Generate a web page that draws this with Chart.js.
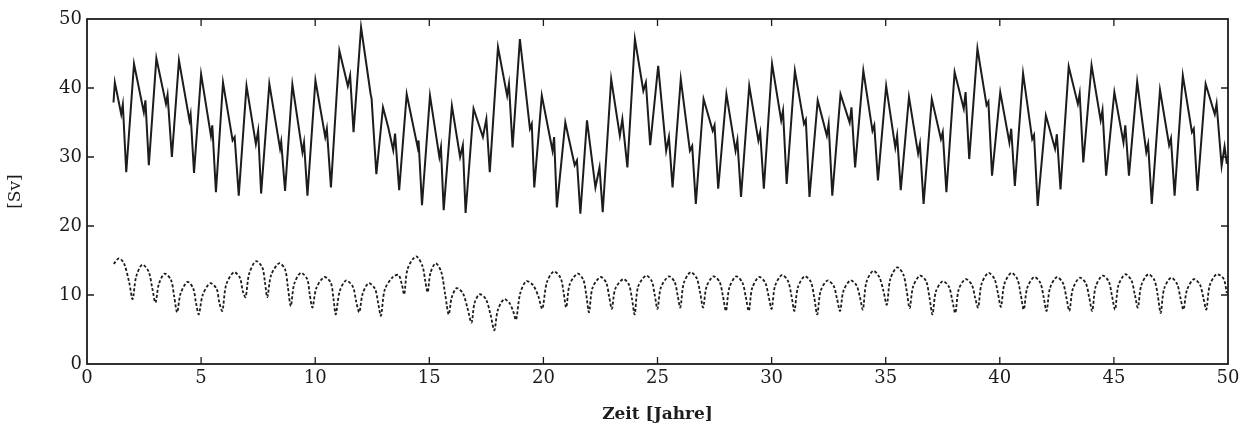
<!DOCTYPE html>
<html lang="de">
<head>
<meta charset="utf-8">
<title>Transport [Sv]</title>
<script src="https://cdn.jsdelivr.net/npm/chart.js@4.4.1/dist/chart.umd.min.js"></script>
<style>
    html, body { margin: 0; padding: 0; background: #fff; }
    #wrap { width: 1253px; height: 425px; }
</style>
</head>
<body>
<div id="wrap"><canvas id="flowChart" width="1253" height="425"></canvas></div>
<script>
// Achsen
const xTicks = [0, 5, 10, 15, 20, 25, 30, 35, 40, 45, 50];
const yTicks = [0, 10, 20, 30, 40, 50];

// obere Kurve (durchgezogen): Zeit in Jahren / Transport in Sv
const upperYears = [
    1.16, 1.22, 1.50, 1.57, 1.72,
    2.06, 2.49, 2.56, 2.71,
    3.04, 3.46, 3.53, 3.72,
    4.03, 4.49, 4.54, 4.69,
    5.00, 5.43, 5.49, 5.65,
    5.96, 6.38, 6.47, 6.65,
    6.99, 7.40, 7.50, 7.63,
    7.99, 8.46, 8.51, 8.68,
    9.00, 9.44, 9.51, 9.66,
    10.01, 10.44, 10.51, 10.69,
    11.06, 11.43, 11.53, 11.68,
    12.01, 12.43, 12.47, 12.68,
    12.97, 13.20, 13.42, 13.50, 13.68,
    14.01, 14.49, 14.53, 14.68,
    15.03, 15.44, 15.51, 15.63,
    15.99, 16.35, 16.47, 16.59,
    16.94, 17.35, 17.50, 17.65,
    18.01, 18.41, 18.49, 18.65,
    18.97, 19.41, 19.49, 19.60,
    19.93, 20.40, 20.47, 20.59,
    20.96, 21.37, 21.47, 21.62,
    21.91, 22.28, 22.46, 22.60,
    22.97, 23.35, 23.46, 23.68,
    24.01, 24.38, 24.49, 24.68,
    25.03, 25.38, 25.50, 25.66,
    26.02, 26.42, 26.52, 26.68,
    27.02, 27.42, 27.50, 27.66,
    28.02, 28.42, 28.50, 28.66,
    29.02, 29.42, 29.50, 29.66,
    30.02, 30.42, 30.50, 30.66,
    31.02, 31.42, 31.50, 31.66,
    32.02, 32.42, 32.50, 32.66,
    33.02, 33.42, 33.50, 33.66,
    34.02, 34.42, 34.50, 34.66,
    35.02, 35.42, 35.50, 35.66,
    36.02, 36.42, 36.50, 36.66,
    37.02, 37.42, 37.50, 37.66,
    38.02, 38.42, 38.50, 38.66,
    39.02, 39.42, 39.50, 39.66,
    40.02, 40.42, 40.50, 40.66,
    41.02, 41.42, 41.50, 41.66,
    42.02, 42.42, 42.50, 42.66,
    43.02, 43.42, 43.50, 43.66,
    44.02, 44.42, 44.50, 44.66,
    45.02, 45.42, 45.50, 45.66,
    46.02, 46.42, 46.50, 46.66,
    47.02, 47.42, 47.50, 47.66,
    48.02, 48.42, 48.50, 48.66,
    49.02, 49.42, 49.50, 49.72, 49.85, 49.95
];
const upperSv = [
    37.9, 40.8, 36.2, 37.6, 27.8,
    43.5, 36.5, 38.2, 28.8,
    44.3, 37.7, 39.0, 30.0,
    44.0, 35.3, 36.2, 27.7,
    42.0, 33.1, 34.6, 24.9,
    40.8, 32.4, 32.9, 24.4,
    40.3, 31.9, 33.8, 24.7,
    40.6, 31.2, 32.2, 25.1,
    40.5, 30.7, 32.1, 24.4,
    41.1, 32.9, 34.1, 25.6,
    45.4, 40.3, 41.8, 33.6,
    48.8, 39.1, 38.5, 27.5,
    37.2, 34.3, 31.0, 33.4, 25.2,
    39.1, 31.4, 32.4, 23.0,
    38.9, 30.0, 31.4, 22.3,
    37.4, 30.0, 31.7, 21.9,
    37.0, 32.9, 35.5, 27.8,
    45.9, 38.9, 40.6, 31.4,
    47.1, 34.1, 34.8, 25.6,
    38.9, 30.9, 32.9, 22.7,
    35.0, 28.8, 29.5, 21.8,
    35.3, 25.6, 28.5, 22.0,
    41.3, 33.1, 35.5, 28.5,
    47.1, 39.6, 40.8, 31.7,
    43.2, 30.9, 32.9, 25.6,
    41.3, 30.9, 31.6, 23.2,
    38.4, 33.8, 34.6, 25.4,
    39.1, 30.9, 32.4, 24.2,
    40.3, 32.4, 33.6, 25.4,
    43.5, 35.3, 36.7, 26.1,
    42.5, 34.8, 35.4, 24.2,
    38.2, 33.1, 34.8, 24.4,
    39.1, 35.0, 37.2, 28.5,
    42.5, 33.8, 34.6, 26.6,
    40.3, 31.4, 33.1, 25.2,
    38.7, 30.5, 31.9, 23.2,
    38.4, 32.6, 33.6, 24.9,
    42.3, 37.0, 39.4, 29.7,
    45.7, 37.5, 38.0, 27.3,
    39.4, 32.1, 34.1, 25.8,
    42.1, 32.6, 33.2, 22.9,
    36.0, 31.2, 33.3, 25.3,
    43.1, 37.7, 39.2, 29.2,
    43.3, 35.3, 36.8, 27.3,
    39.4, 32.1, 34.6, 27.3,
    40.9, 30.7, 31.9, 23.2,
    39.7, 31.7, 32.7, 24.4,
    41.8, 33.6, 34.1, 25.1,
    40.6, 36.2, 37.7, 28.7, 31.5, 29.0
];

// untere Kurve (gestrichelt)
const lowerYears = [
    1.17, 1.40, 1.62, 1.85,
    2.00, 2.15, 2.42, 2.70, 2.86,
    3.00, 3.15, 3.40, 3.68, 3.82,
    3.95, 4.10, 4.40, 4.65, 4.78,
    4.90, 5.07, 5.40, 5.68, 5.80,
    5.93, 6.10, 6.44, 6.70, 6.83,
    6.95, 7.10, 7.40, 7.68, 7.80,
    7.90, 8.07, 8.42, 8.68, 8.80,
    8.93, 9.08, 9.37, 9.65, 9.76,
    9.88, 10.05, 10.40, 10.68, 10.80,
    10.90, 11.07, 11.35, 11.65, 11.80,
    11.93, 12.08, 12.34, 12.62, 12.76,
    12.88, 13.05, 13.40, 13.65, 13.80,
    13.90, 14.05, 14.42, 14.70, 14.83,
    14.93, 15.05, 15.28, 15.52, 15.70,
    15.85, 15.98, 16.20, 16.48, 16.68,
    16.85, 16.98, 17.20, 17.48, 17.68,
    17.85, 18.00, 18.28, 18.52, 18.68,
    18.80, 18.98, 19.25, 19.55, 19.78,
    19.95, 20.15, 20.45, 20.75, 20.88,
    21.00, 21.15, 21.50, 21.75, 21.88,
    22.00, 22.15, 22.50, 22.75, 22.88,
    23.00, 23.15, 23.50, 23.75, 23.88,
    24.00, 24.15, 24.50, 24.75, 24.88,
    25.00, 25.15, 25.50, 25.75, 25.88,
    26.00, 26.15, 26.45, 26.72, 26.87,
    27.00, 27.15, 27.45, 27.72, 27.87,
    28.00, 28.15, 28.45, 28.72, 28.87,
    29.00, 29.15, 29.45, 29.72, 29.87,
    30.00, 30.15, 30.45, 30.72, 30.87,
    31.00, 31.15, 31.45, 31.72, 31.87,
    32.00, 32.15, 32.45, 32.72, 32.87,
    33.00, 33.15, 33.45, 33.72, 33.87,
    34.00, 34.15, 34.45, 34.72, 34.90,
    35.05, 35.20, 35.50, 35.77, 35.92,
    36.05, 36.20, 36.50, 36.77, 36.92,
    37.05, 37.20, 37.50, 37.77, 37.92,
    38.05, 38.20, 38.50, 38.77, 38.92,
    39.05, 39.20, 39.50, 39.77, 39.92,
    40.05, 40.20, 40.50, 40.77, 40.92,
    41.05, 41.20, 41.50, 41.77, 41.92,
    42.05, 42.20, 42.50, 42.77, 42.92,
    43.05, 43.20, 43.50, 43.77, 43.92,
    44.05, 44.20, 44.50, 44.77, 44.92,
    45.05, 45.20, 45.50, 45.77, 45.92,
    46.05, 46.20, 46.50, 46.77, 46.92,
    47.05, 47.20, 47.50, 47.77, 47.92,
    48.05, 48.20, 48.50, 48.77, 48.92,
    49.05, 49.20, 49.50, 49.80, 49.95
];
const lowerSv = [
    14.5, 15.3, 14.6, 11.8,
    9.4, 12.6, 14.4, 13.4, 11.0,
    8.9, 11.6, 13.1, 12.2, 9.8,
    7.5, 10.2, 11.9, 11.0, 8.8,
    7.2, 10.0, 11.7, 10.9, 8.9,
    7.7, 11.5, 13.3, 12.5, 10.5,
    9.7, 13.0, 14.9, 14.0, 11.8,
    9.7, 12.9, 14.6, 13.7, 11.2,
    8.4, 11.6, 13.2, 12.3, 10.1,
    8.2, 11.0, 12.6, 11.8, 9.5,
    7.2, 10.5, 12.1, 11.2, 9.0,
    7.5, 10.2, 11.7, 10.9, 8.8,
    7.0, 10.8, 12.6, 12.9, 11.5,
    10.1, 13.8, 15.6, 14.2, 11.9,
    10.4, 13.2, 14.6, 13.4, 10.0,
    7.2, 9.6, 11.0, 10.2, 8.0,
    6.0, 8.8, 10.1, 9.4, 7.2,
    4.9, 7.8, 9.4, 8.8, 7.6,
    6.4, 10.2, 12.0, 11.4, 9.8,
    8.0, 11.8, 13.4, 12.5, 10.5,
    8.2, 11.5, 13.1, 12.2, 10.0,
    7.5, 11.0, 12.6, 11.8, 9.8,
    8.0, 10.9, 12.3, 11.5, 9.5,
    7.2, 11.2, 12.8, 12.0, 10.0,
    8.0, 11.1, 12.7, 11.9, 10.0,
    8.2, 11.7, 13.3, 12.4, 10.3,
    8.2, 11.2, 12.7, 11.9, 9.8,
    7.7, 11.1, 12.7, 11.8, 9.7,
    7.7, 11.0, 12.6, 11.8, 9.8,
    8.0, 11.3, 12.9, 12.0, 9.9,
    7.7, 11.1, 12.7, 11.9, 9.6,
    7.2, 10.6, 12.1, 11.3, 9.4,
    7.7, 10.6, 12.1, 11.4, 9.7,
    7.9, 11.8, 13.5, 12.6, 10.6,
    8.6, 12.3, 14.0, 13.0, 10.6,
    8.1, 11.2, 12.8, 12.0, 9.6,
    7.2, 10.5, 12.0, 11.2, 9.2,
    7.4, 10.8, 12.3, 11.5, 9.6,
    8.2, 11.6, 13.2, 12.3, 10.2,
    8.3, 11.6, 13.2, 12.3, 10.0,
    7.9, 11.0, 12.6, 11.8, 9.7,
    7.7, 11.0, 12.6, 11.7, 9.6,
    7.7, 10.9, 12.5, 11.7, 9.6,
    7.7, 11.2, 12.8, 12.0, 9.8,
    7.9, 11.4, 13.0, 12.1, 10.0,
    8.2, 11.4, 13.0, 12.2, 10.0,
    7.4, 10.9, 12.5, 11.6, 9.5,
    7.9, 10.7, 12.3, 11.5, 9.6,
    7.9, 11.4, 13.0, 12.4, 10.3
];

const ink = '#1c1c1c';
const tickFont = { family: '"DejaVu Serif", "Liberation Serif", serif', size: 18 };

// Rahmen mit nach innen zeigenden Ticks auf allen vier Seiten
const frameBox = {
    id: 'frameBox',
    afterDatasetsDraw(chart) {
        const { ctx, chartArea: a, scales: { x, y } } = chart;
        const len = 7;
        ctx.save();
        ctx.strokeStyle = ink;
        ctx.lineWidth = 1.8;
        ctx.strokeRect(a.left, a.top, a.right - a.left, a.bottom - a.top);
        ctx.lineWidth = 1.3;
        ctx.beginPath();
        xTicks.slice(1, -1).forEach(v => {
            const px = x.getPixelForValue(v);
            ctx.moveTo(px, a.bottom); ctx.lineTo(px, a.bottom - len);
            ctx.moveTo(px, a.top); ctx.lineTo(px, a.top + len);
        });
        yTicks.slice(1, -1).forEach(v => {
            const py = y.getPixelForValue(v);
            ctx.moveTo(a.left, py); ctx.lineTo(a.left + len, py);
            ctx.moveTo(a.right, py); ctx.lineTo(a.right - len, py);
        });
        ctx.stroke();
        ctx.restore();
    }
};

new Chart(document.getElementById('flowChart'), {
    type: 'line',
    data: {
        datasets: [
            {
                label: 'oben',
                data: upperYears.map((t, i) => ({ x: t, y: upperSv[i] })),
                borderColor: ink,
                borderWidth: 2,
                pointRadius: 0,
                tension: 0
            },
            {
                label: 'unten',
                data: lowerYears.map((t, i) => ({ x: t, y: lowerSv[i] })),
                borderColor: ink,
                borderWidth: 1.8,
                borderDash: [3, 2],
                pointRadius: 0,
                tension: 0.3
            }
        ]
    },
    options: {
        responsive: false,
        animation: false,
        events: [],
        layout: { padding: { left: 0, right: 25, top: 19, bottom: 0 } },
        plugins: { legend: { display: false }, tooltip: { enabled: false } },
        scales: {
            x: {
                type: 'linear',
                min: 0,
                max: 50,
                afterBuildTicks: s => { s.ticks = xTicks.map(v => ({ value: v })); },
                afterFit: s => { s.height = 61; },
                grid: { display: false, drawTicks: false },
                border: { display: false },
                ticks: { color: ink, font: tickFont, padding: 4, maxRotation: 0 },
                title: {
                    display: true,
                    text: 'Zeit [Jahre]',
                    color: ink,
                    font: { family: '"DejaVu Serif", serif', size: 17, weight: 'bold' },
                    padding: { top: 0, bottom: 0 }
                }
            },
            y: {
                min: 0,
                max: 50,
                afterBuildTicks: s => { s.ticks = yTicks.map(v => ({ value: v })); },
                afterFit: s => { s.width = 87; },
                grid: { display: false, drawTicks: false },
                border: { display: false },
                ticks: { color: ink, font: tickFont, padding: 5 },
                title: {
                    display: true,
                    text: '[Sv]',
                    color: ink,
                    font: { family: '"DejaVu Serif", serif', size: 17 },
                    padding: { top: 5, bottom: 0 }
                }
            }
        }
    },
    plugins: [frameBox]
});
</script>
</body>
</html>
